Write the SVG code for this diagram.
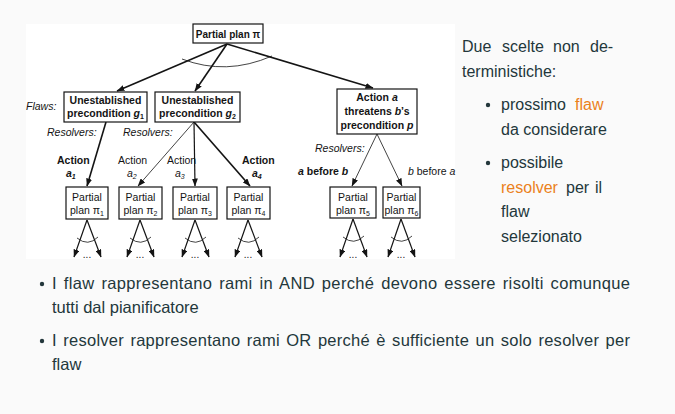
<svg xmlns="http://www.w3.org/2000/svg" width="675" height="414" viewBox="0 0 675 414">
<defs>
<style>
.fig{font-family:"Liberation Sans",Arial,sans-serif;fill:#141414}
.b{font-weight:bold}
.i{font-style:italic}
.f10{font-size:10px}
.f105{font-size:10.5px}
.box{fill:#fff;stroke:#141414;stroke-width:1.2}
.ln{fill:none;stroke:#141414}
.thick{stroke-width:1.6}
.med{stroke-width:1.2}
.thin{stroke-width:0.8}
.arc{fill:none;stroke:#141414;stroke-width:0.8}
.txt{font-family:"Liberation Sans",Arial,sans-serif;font-size:16px;fill:#23373b}
.al{fill:#eb811b}
</style>
<marker id="ah" markerUnits="userSpaceOnUse" markerWidth="8" markerHeight="6" refX="7.5" refY="3" orient="auto">
<path d="M0,0 L8,3 L0,6 Z" fill="#141414"/>
</marker>
<clipPath id="figclip"><rect x="26" y="24" width="429" height="235"/></clipPath>
</defs>
<rect x="0" y="0" width="675" height="414" fill="#fafafa"/>
<rect x="26" y="24" width="429" height="235" fill="#ffffff"/>

<g id="connectors" clip-path="url(#figclip)">
<line class="ln thick" x1="227" y1="44" x2="117" y2="91" marker-end="url(#ah)"/>
<line class="ln thick" x1="227" y1="44" x2="195" y2="91" marker-end="url(#ah)"/>
<line class="ln thick" x1="227" y1="44" x2="373" y2="88" marker-end="url(#ah)"/>
<path class="arc" d="M182,59 Q226,76 272,56"/>
<line class="ln thick" x1="106" y1="122" x2="87" y2="186" marker-end="url(#ah)"/>
<line class="ln thin" x1="194" y1="122" x2="138" y2="186" marker-end="url(#ah)"/>
<line class="ln med" x1="194" y1="122" x2="195" y2="186" marker-end="url(#ah)"/>
<line class="ln thick" x1="194" y1="122" x2="250" y2="186" marker-end="url(#ah)"/>
<line class="ln thin" x1="377" y1="134" x2="352" y2="186" marker-end="url(#ah)"/>
<line class="ln thin" x1="377" y1="134" x2="402" y2="186" marker-end="url(#ah)"/>
<g id="fan1">
<line class="ln med" x1="87" y1="220" x2="74" y2="257" marker-end="url(#ah)"/>
<line class="ln med" x1="87" y1="220" x2="101" y2="257" marker-end="url(#ah)"/>
<path class="arc" d="M77,238 Q88,247 98,237"/>
</g>
<g id="fan2">
<line class="ln med" x1="140" y1="220" x2="127" y2="257" marker-end="url(#ah)"/>
<line class="ln med" x1="140" y1="220" x2="154" y2="257" marker-end="url(#ah)"/>
<path class="arc" d="M130,238 Q141,247 151,237"/>
</g>
<g id="fan3">
<line class="ln med" x1="195" y1="220" x2="182" y2="257" marker-end="url(#ah)"/>
<line class="ln med" x1="195" y1="220" x2="209" y2="257" marker-end="url(#ah)"/>
<path class="arc" d="M185,238 Q196,247 206,237"/>
</g>
<g id="fan4">
<line class="ln med" x1="248" y1="220" x2="235" y2="257" marker-end="url(#ah)"/>
<line class="ln med" x1="248" y1="220" x2="262" y2="257" marker-end="url(#ah)"/>
<path class="arc" d="M238,238 Q249,247 259,237"/>
</g>
<g id="fan5">
<line class="ln med" x1="353" y1="219" x2="340" y2="257" marker-end="url(#ah)"/>
<line class="ln med" x1="353" y1="219" x2="367" y2="257" marker-end="url(#ah)"/>
<path class="arc" d="M343,237 Q354,246 364,236"/>
</g>
<g id="fan6">
<line class="ln med" x1="401" y1="219" x2="388" y2="257" marker-end="url(#ah)"/>
<line class="ln med" x1="401" y1="219" x2="415" y2="257" marker-end="url(#ah)"/>
<path class="arc" d="M391,237 Q402,246 412,236"/>
</g>
</g>

<g clip-path="url(#figclip)" class="fig f10">
<text x="87" y="258" text-anchor="middle">...</text>
<text x="140" y="258" text-anchor="middle">...</text>
<text x="195" y="258" text-anchor="middle">...</text>
<text x="248" y="258" text-anchor="middle">...</text>
<text x="353" y="258" text-anchor="middle">...</text>
<text x="401" y="258" text-anchor="middle">...</text>
</g>

<g id="root">
<rect class="box" x="193" y="24" width="70" height="19"/>
<text class="fig b f10" x="228" y="38" text-anchor="middle">Partial plan π</text>
</g>

<g id="flaw-g1">
<rect class="box" x="64" y="92" width="83" height="30"/>
<text class="fig b f105" x="105.5" y="104" text-anchor="middle">Unestablished</text>
<text class="fig b f105" x="105.5" y="117" text-anchor="middle">precondition <tspan class="i">g</tspan><tspan font-size="7" dy="2">1</tspan></text>
</g>

<g id="flaw-g2">
<rect class="box" x="155" y="92" width="85" height="30"/>
<text class="fig b f105" x="197.5" y="104" text-anchor="middle">Unestablished</text>
<text class="fig b f105" x="197.5" y="117" text-anchor="middle">precondition <tspan class="i">g</tspan><tspan font-size="7" dy="2">2</tspan></text>
</g>

<g id="flaw-threat">
<rect class="box" x="337" y="89" width="80" height="45"/>
<text class="fig b f105" x="377" y="101" text-anchor="middle">Action <tspan class="i">a</tspan></text>
<text class="fig b f105" x="377" y="115" text-anchor="middle">threatens <tspan class="i">b</tspan>’s</text>
<text class="fig b f105" x="377" y="129" text-anchor="middle">precondition <tspan class="i">p</tspan></text>
</g>

<g id="plan1">
<rect class="box" x="66" y="187" width="42" height="32"/>
<text class="fig f105" x="87" y="201" text-anchor="middle">Partial</text>
<text class="fig f105" x="87" y="214" text-anchor="middle">plan π<tspan font-size="7" dy="2">1</tspan></text>
</g>
<g id="plan2">
<rect class="box" x="119" y="187" width="43" height="32"/>
<text class="fig f105" x="140.5" y="201" text-anchor="middle">Partial</text>
<text class="fig f105" x="140.5" y="214" text-anchor="middle">plan π<tspan font-size="7" dy="2">2</tspan></text>
</g>
<g id="plan3">
<rect class="box" x="173" y="187" width="44" height="32"/>
<text class="fig f105" x="195" y="201" text-anchor="middle">Partial</text>
<text class="fig f105" x="195" y="214" text-anchor="middle">plan π<tspan font-size="7" dy="2">3</tspan></text>
</g>
<g id="plan4">
<rect class="box" x="227" y="187" width="43" height="32"/>
<text class="fig f105" x="248.5" y="201" text-anchor="middle">Partial</text>
<text class="fig f105" x="248.5" y="214" text-anchor="middle">plan π<tspan font-size="7" dy="2">4</tspan></text>
</g>
<g id="plan5">
<rect class="box" x="330" y="187" width="46" height="31"/>
<text class="fig f105" x="353" y="201" text-anchor="middle">Partial</text>
<text class="fig f105" x="353" y="214" text-anchor="middle">plan π<tspan font-size="7" dy="2">5</tspan></text>
</g>
<g id="plan6">
<rect class="box" x="383" y="187" width="37" height="31"/>
<text class="fig f105" x="401.5" y="201" text-anchor="middle">Partial</text>
<text class="fig f105" x="401.5" y="214" text-anchor="middle">plan π<tspan font-size="7" dy="2">6</tspan></text>
</g>

<g id="labels" class="fig f105">
<text class="i" x="26" y="110">Flaws:</text>
<text class="i" x="47" y="136">Resolvers:</text>
<text class="i" x="123" y="136">Resolvers:</text>
<text class="i" x="315" y="152">Resolvers:</text>
<text class="b" x="57" y="164">Action</text>
<text class="b i" x="66" y="177">a<tspan font-size="7" dy="2">1</tspan></text>
<text x="118" y="164">Action</text>
<text class="i" x="127" y="177">a<tspan font-size="7" dy="2">2</tspan></text>
<text x="167" y="164">Action</text>
<text class="i" x="175" y="177">a<tspan font-size="7" dy="2">3</tspan></text>
<text class="b" x="242" y="164">Action</text>
<text class="b i" x="252" y="177">a<tspan font-size="7" dy="2">4</tspan></text>
<text class="b" x="298" y="175"><tspan class="i">a</tspan> before <tspan class="i">b</tspan></text>
<text x="408" y="175"><tspan class="i">b</tspan> before <tspan class="i">a</tspan></text>
</g>

<g id="side-text" class="txt">
<text x="462" y="52">Due</text>
<text x="502" y="52">scelte</text>
<text x="553" y="52">non</text>
<text x="590" y="52">de-</text>
<text x="462" y="77">terministiche:</text>
<circle cx="488" cy="105" r="2.2" fill="#23373b"/>
<text x="501" y="110">prossimo</text>
<text class="al" x="575" y="110">flaw</text>
<text x="501" y="135">da considerare</text>
<circle cx="488" cy="163" r="2.2" fill="#23373b"/>
<text x="501" y="168">possibile</text>
<text class="al" x="501" y="193">resolver</text>
<text x="566" y="193">per</text>
<text x="595" y="193">il</text>
<text x="501" y="217">flaw</text>
<text x="501" y="242">selezionato</text>
</g>

<g id="bottom-text" class="txt" font-size="16.5">
<circle cx="42" cy="284" r="2.2" fill="#23373b"/>
<text x="52" y="289" font-size="16.5" word-spacing="2" textLength="578" lengthAdjust="spacing">I flaw rappresentano rami in AND perché devono essere risolti comunque</text>
<text x="52" y="313" font-size="16.5">tutti dal pianificatore</text>
<circle cx="42" cy="341" r="2.2" fill="#23373b"/>
<text x="52" y="346" font-size="16.5" word-spacing="1.5" textLength="578" lengthAdjust="spacing">I resolver rappresentano rami OR perché è sufficiente un solo resolver per</text>
<text x="52" y="370" font-size="16.5">flaw</text>
</g>
</svg>
